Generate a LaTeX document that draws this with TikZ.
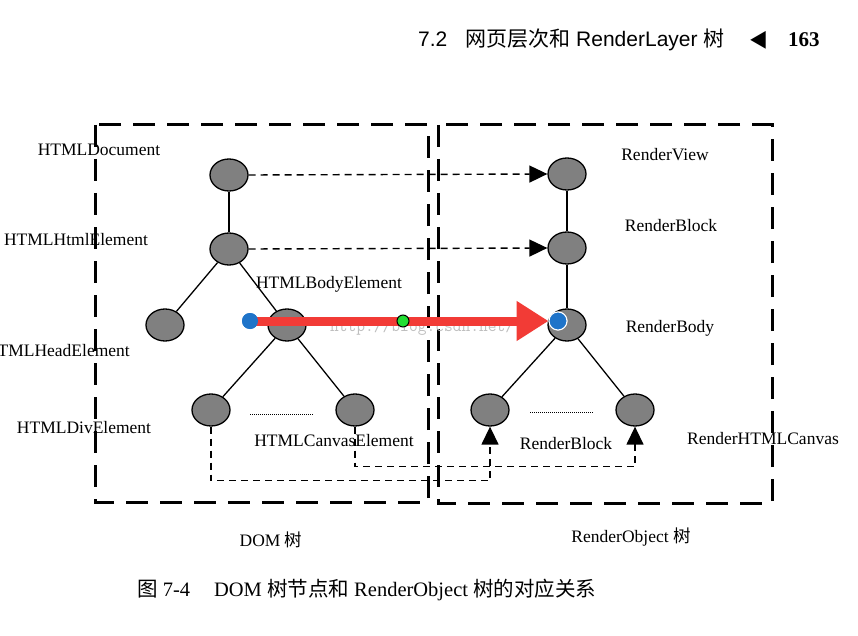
\documentclass[tikz,border=0pt]{standalone}
\usepackage{fontspec}
\setmainfont{Liberation Serif}
\newfontfamily\hdsans{Liberation Sans}
\newfontfamily\cjk{Noto Sans CJK SC}
\usepackage{xcolor}
\definecolor{nodegray}{HTML}{808080}
\definecolor{redarrow}{HTML}{F23B36}
\definecolor{bluedot}{HTML}{1F74C9}
\definecolor{greendot}{HTML}{22DD33}
\definecolor{wmark}{HTML}{BEBEBE}
\usetikzlibrary{positioning,arrows.meta,shapes.geometric,calc}

\begin{document}
\begin{tikzpicture}[x=1pt, y=-1pt,
    every node/.style={font=\fontsize{17.5}{20}\selectfont, inner sep=0pt},
    tnode/.style={draw=black, fill=nodegray, line width=1.3pt, ellipse,
                  minimum width=38pt, minimum height=32pt},
    frame/.style={line width=3pt, dash pattern=on 22pt off 12pt},
    edge/.style={line width=1.3pt},
    maplink/.style={line width=1.4pt, dash pattern=on 7pt off 5pt,
                    -{Triangle[length=18pt,width=17pt]}},
    dots/.style={line width=0.8pt, dash pattern=on 1pt off 1pt},
    dotmark/.style={circle, minimum size=#1, line width=1pt}]
  \useasboundingbox (0,0) rectangle (858,636);
  % header
  \node[anchor=west, font=\fontsize{21}{24}\selectfont\hdsans] (hd) at (418,40)
    {7.2\hspace{18pt}{\cjk 网页层次和} RenderLayer {\cjk 树}};
  \node[font=\fontsize{19}{20}\selectfont\cjk] (tri) at (759,40) {◀};
  \node[anchor=west, font=\fontsize{21}{22}\selectfont\bfseries] (pg) at (788,40) {163};
  % frames
  \draw[frame] (95,125) rectangle (428,502);
  \draw[frame] (438,125) rectangle (772,503);
  % DOM tree
  \node[tnode] (doc)    at (229,175) {};
  \node[tnode] (html)   at (229,249) {};
  \node[tnode] (head)   at (165,325) {};
  \node[tnode] (body)   at (287,325) {};
  \node[tnode] (div)    at (211,410) {};
  \node[tnode] (canvas) at (355,410) {};
  % RenderObject tree
  \node[tnode] (rview)  at (567,174) {};
  \node[tnode] (rblock) at (567,248) {};
  \node[tnode] (rbody)  at (567,325) {};
  \node[tnode] (rleft)  at (490,410) {};
  \node[tnode] (rright) at (635,410) {};
  \draw[edge] (doc) -- (html);
  \draw[edge] (html) -- (head);
  \draw[edge] (html) -- (body);
  \draw[edge] (body) -- (div);
  \draw[edge] (body) -- (canvas);
  \draw[edge] (rview) -- (rblock);
  \draw[edge] (rblock) -- (rbody);
  \draw[edge] (rbody) -- (rleft);
  \draw[edge] (rbody) -- (rright);
  \draw[dots] (250,414) -- (313,414);
  \draw[dots] (530,412) -- (594,412);
  % labels
  \node (ldoc)    at (99,150)  {HTMLDocument};
  \node (lhtml)   at (76,240)  {HTMLHtmlElement};
  \node (lbody)   at (329,284) {HTMLBodyElement};
  \node[anchor=east] (lhead) at (130,351) {HTMLHeadElement};
  \node (ldiv)    at (84,428)  {HTMLDivElement};
  \node (lcanvas) at (334,441) {HTMLCanvasElement};
  \node (lrview)  at (665,155) {RenderView};
  \node (lrblock) at (671,226) {RenderBlock};
  \node (lrbody)  at (670,328) {RenderBody};
  \node (lrleft)  at (566,444) {RenderBlock};
  \node (lrcanv)  at (763,439) {RenderHTMLCanvas};
  \node (ldom)    at (271,540) {DOM {\cjk 树}};
  \node (lrobj)   at (631,537) {RenderObject {\cjk 树}};
  % mapping links
  \draw[maplink] (doc.east) -- (rview.west);
  \draw[maplink] (html.east) -- (rblock.west);
  \draw[maplink] (div.south) -- ++(0,54) -| (rleft.south);
  \draw[maplink] (canvas.south) -- ++(0,40) -| (rright.south);
  % watermark
  \node[anchor=west, font=\fontsize{17}{20}\selectfont\ttfamily, text=wmark] (wm)
    at (330,328) {http://blog.csdn.net/};
  % highlight
  \node[dotmark=16pt, fill=bluedot] (bd1) at (250,321) {};
  \node[dotmark=18pt, fill=bluedot, draw=white] (bd2) at (558,321) {};
  \draw[redarrow, line width=9pt, -{Triangle[length=32pt,width=38pt]}]
    (bd1.center) -- (bd2.west);
  \node[dotmark=16pt, fill=bluedot] at (bd1) {};
  \node[dotmark=18pt, fill=bluedot, draw=white] at (bd2) {};
  \node[dotmark=12pt, fill=greendot, draw=black] (gd) at (403,321) {};
  % caption
  \node[anchor=west, font=\fontsize{20.5}{24}\selectfont] (cap) at (137,590)
    {{\cjk 图} 7-4\hspace{24pt}DOM {\cjk 树节点和} RenderObject {\cjk 树的对应关系}};
\end{tikzpicture}
\end{document}
